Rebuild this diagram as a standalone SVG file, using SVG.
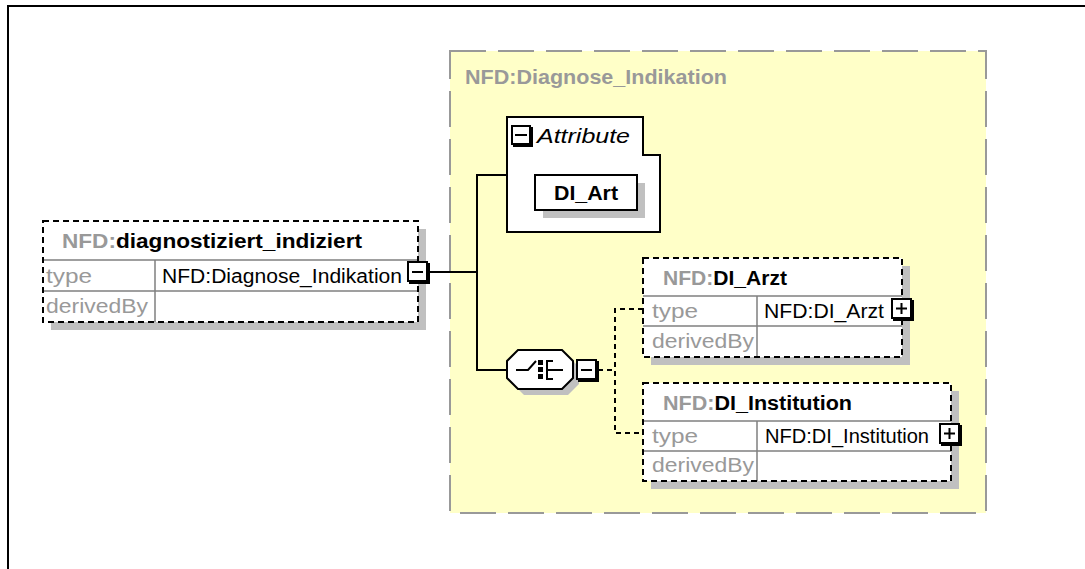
<svg xmlns="http://www.w3.org/2000/svg" width="1085" height="569" viewBox="0 0 1085 569">
<defs>
<style>
.t{font-family:"Liberation Sans",Arial,sans-serif;font-size:20px;fill:#000}
.g{fill:#999}
.b{font-weight:bold}
.i{font-style:italic}
.box{fill:none;stroke:#000;stroke-width:2;stroke-dasharray:6 4}
.row{stroke:#808080;stroke-width:1.5;fill:none}
.sh{fill:#c0c0c0}
.conn{stroke:#000;stroke-width:2;fill:none}
.connd{stroke:#000;stroke-width:2;fill:none;stroke-dasharray:5 4}
.btn{fill:#fff;stroke:#000;stroke-width:2}
.btn2{fill:none;stroke:#000;stroke-width:2}
</style>
</defs>
<rect width="1085" height="569" fill="#fff"/>
<path d="M8,569 V6 H1085" fill="none" stroke="#000" stroke-width="2"/>

<g id="complexType">
<rect x="450" y="51" width="536" height="462" fill="#FFFFC8" stroke="#999" stroke-width="2" stroke-dasharray="36 12"/>
<text x="465" y="84" class="t b g" textLength="262" lengthAdjust="spacingAndGlyphs">NFD:Diagnose_Indikation</text>
</g>

<g id="connectors">
<path class="conn" d="M428,272 H477 M507,175 H477 V370 H507"/>
<path class="connd" d="M598,370 H615 M643,309 H615 V433 H643"/>
</g>

<g id="diagnostiziert_indiziert">
<rect x="51" y="229" width="375" height="101" class="sh"/>
<rect x="43" y="221" width="375" height="101" fill="#fff"/>
<path d="M43,260 H418 M43,291 H418 M155,260 V322" class="row"/>
<rect x="43" y="221" width="375" height="101" class="box"/>
<text x="62" y="248" class="t b" textLength="300" lengthAdjust="spacingAndGlyphs"><tspan class="g">NFD:</tspan>diagnostiziert_indiziert</text>
<text x="46" y="283" class="t g" textLength="46" lengthAdjust="spacingAndGlyphs">type</text>
<text x="46" y="313" class="t g" textLength="102" lengthAdjust="spacingAndGlyphs">derivedBy</text>
<text x="162" y="283" class="t" textLength="240" lengthAdjust="spacingAndGlyphs">NFD:Diagnose_Indikation</text>
<rect x="408" y="262" width="19" height="19" class="btn"/>
<path d="M409,283 H429 V263" class="btn2"/>
<path d="M412,272 H423" class="btn2"/>
</g>

<g id="attributes">
<path d="M507,117 H643 V155 H660 V232 H507 Z" fill="#fff" stroke="#000" stroke-width="2"/>
<rect x="512" y="126" width="18" height="18" class="btn"/>
<path d="M513,146 H532 V127" class="btn2"/>
<path d="M515,135 H527" class="btn2"/>
<text x="537" y="143" class="t i" textLength="93" lengthAdjust="spacingAndGlyphs">Attribute</text>
</g>

<g id="DI_Art">
<rect x="543" y="183" width="102" height="35" class="sh"/>
<rect x="535" y="175" width="102" height="35" fill="#fff" stroke="#000" stroke-width="2"/>
<text x="586" y="200" text-anchor="middle" class="t b" textLength="64" lengthAdjust="spacingAndGlyphs">DI_Art</text>
</g>

<g id="choice">
<polygon points="524,356 568,356 579,367 579,384 568,395 524,395 513,384 513,367" class="sh"/>
<polygon points="518,350 562,350 573,361 573,378 562,389 518,389 507,378 507,361" fill="#fff" stroke="#000" stroke-width="2"/>
<path d="M516,370 H528 L536,361" class="btn2"/>
<rect x="538" y="360" width="5" height="5" fill="#000"/>
<rect x="538" y="367" width="5" height="5" fill="#000"/>
<rect x="538" y="374" width="5" height="5" fill="#000"/>
<path d="M553,361 H547 V379 H553 M547,370 H563" class="btn2"/>
<rect x="577" y="360" width="19" height="19" class="btn"/>
<path d="M578,381 H598 V361" class="btn2"/>
<path d="M581,370 H592" class="btn2"/>
</g>

<g id="DI_Arzt">
<rect x="651" y="266" width="259" height="99" class="sh"/>
<rect x="643" y="258" width="259" height="99" fill="#fff"/>
<path d="M643,296 H902 M643,326 H902 M757,296 V357" class="row"/>
<rect x="643" y="258" width="259" height="99" class="box"/>
<text x="663" y="285" class="t b" textLength="124" lengthAdjust="spacingAndGlyphs"><tspan class="g">NFD:</tspan>DI_Arzt</text>
<text x="652" y="318" class="t g" textLength="46" lengthAdjust="spacingAndGlyphs">type</text>
<text x="652" y="348" class="t g" textLength="102" lengthAdjust="spacingAndGlyphs">derivedBy</text>
<text x="764" y="318" class="t" textLength="120" lengthAdjust="spacingAndGlyphs">NFD:DI_Arzt</text>
<rect x="892" y="299" width="19" height="19" class="btn"/>
<path d="M893,320 H913 V300" class="btn2"/>
<path d="M896,308.5 H907 M901.5,303 V314" class="btn2"/>
</g>

<g id="DI_Institution">
<rect x="651" y="391" width="308" height="98" class="sh"/>
<rect x="643" y="383" width="308" height="98" fill="#fff"/>
<path d="M643,421 H951 M643,451 H951 M757,421 V481" class="row"/>
<rect x="643" y="383" width="308" height="98" class="box"/>
<text x="663" y="410" class="t b" textLength="189" lengthAdjust="spacingAndGlyphs"><tspan class="g">NFD:</tspan>DI_Institution</text>
<text x="652" y="443" class="t g" textLength="46" lengthAdjust="spacingAndGlyphs">type</text>
<text x="652" y="472" class="t g" textLength="102" lengthAdjust="spacingAndGlyphs">derivedBy</text>
<text x="765" y="443" class="t" textLength="164" lengthAdjust="spacingAndGlyphs">NFD:DI_Institution</text>
<rect x="940" y="424" width="19" height="19" class="btn"/>
<path d="M941,445 H961 V425" class="btn2"/>
<path d="M944,433.5 H955 M949.5,428 V439" class="btn2"/>
</g>
</svg>
